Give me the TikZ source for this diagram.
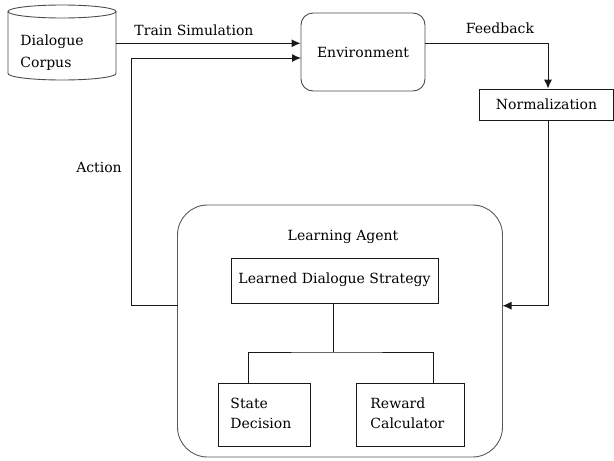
\documentclass[tikz,border=0pt]{standalone}
\usepackage{fontspec}
\setmainfont{DejaVu Serif}
\usetikzlibrary{arrows.meta,calc}
\begin{document}
\begin{tikzpicture}[x=1pt,y=-1pt,
  line width=0.9pt, draw=black!90,
  every node/.style={font=\fontsize{14}{17}\selectfont, inner sep=0pt},
  box/.style={draw, rectangle, minimum width=#1},
  arr/.style={-{Latex[length=9pt,width=8pt]}},
  lbl/.style={anchor=base}]
\useasboundingbox (0,0) rectangle (614,461);
% cylinder
\node (corpus) [minimum width=108pt, minimum height=75pt] at (62,42.5) {};
\draw[draw=black!70] (62,11.5) ellipse (54pt and 6.5pt);
\draw[draw=black!70] (8,11.5) -- (8,73.5) arc (180:360:54pt and 6.5pt) -- (116,11.5);
\node[anchor=base west] at (20,45) {Dialogue};
\node[anchor=base west] at (20,67) {Corpus};
% environment
\node (env) [draw, draw=black!70, rounded corners=12pt, minimum width=124pt, minimum height=78pt] at (363,52) {Environment};
% normalization
\node (norm) [box=134pt, minimum height=31pt] at (546.5,104.5) {Normalization};
% agent
\node (agent) [draw, draw=black!65, rounded corners=30pt, minimum width=325pt, minimum height=252pt] at (340,331) {};
\node[lbl] at (343,240) {Learning Agent};
\node (lds) [box=207pt, minimum height=45pt] at (334.5,280.5) {};
\node[lbl] at (334.5,283) {Learned Dialogue Strategy};
\node (sd) [box=92pt, minimum height=63pt] at (264,414.5) {};
\node[anchor=base west] at (230,408) {State};
\node[anchor=base west] at (230,428) {Decision};
\node (rc) [box=108pt, minimum height=63pt] at (410,414.5) {};
\node[anchor=base west] at (370,408) {Reward};
\node[anchor=base west] at (370,428) {Calculator};
% connectors
\coordinate (fork) at (333,352);
\draw (lds.south -| fork) -- (fork);
\draw ($(sd.north)+(-16,0)$) |- (fork) -| ($(rc.north)+(23,0)$);
\coordinate (tout) at (116,43.3);
\draw[arr] (tout) -- (tout -| env.west);
\node[lbl] at (194,35) {Train Simulation};
\coordinate (aout) at (177.5,305.7);
\coordinate (ain) at (301,58);
\draw[arr] (aout) -- ++(-46.5,0) |- (ain);
\node[lbl] at (99,172.5) {Action};
\coordinate (fout) at (425,43.3);
\coordinate (ncol) at (548,0);
\draw[arr] (fout) -- (fout -| ncol) -- (norm.north -| ncol);
\node[lbl] at (500,33) {Feedback};
\coordinate (nin) at (502.5,305.7);
\draw[arr] (norm.south -| ncol) |- (nin);
\end{tikzpicture}
\end{document}
